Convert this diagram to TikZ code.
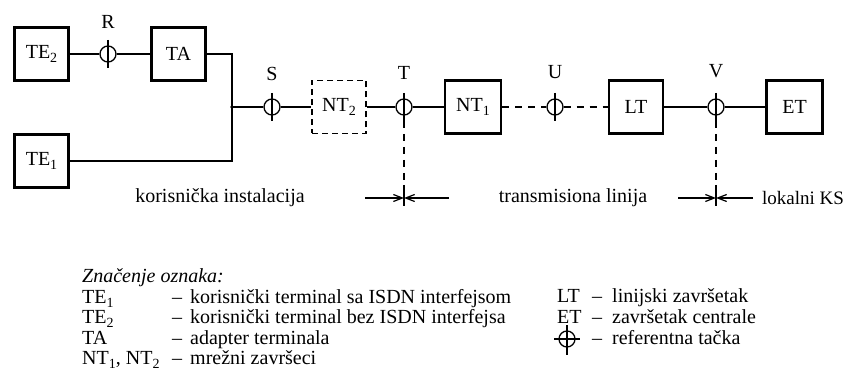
\documentclass[tikz,border=0pt]{standalone}
\usepackage{fontspec}
\setmainfont{Liberation Serif}
\usetikzlibrary{arrows.meta}
\newcommand{\sbs}[1]{\raisebox{-0.22em}{\fontsize{14}{14}\selectfont #1}}
\begin{document}
\begin{tikzpicture}[x=1pt,y=-1pt,
  txt/.style={font=\fontsize{20}{24}\selectfont},
  blk/.style={txt,draw,line width=2.3pt,minimum width=54pt,minimum height=53pt,inner sep=0pt},
  dblk/.style={txt,draw,line width=1.4pt,dash pattern=on 6pt off 4pt,minimum width=54pt,minimum height=53pt,inner sep=0pt},
  refp/.style={draw,circle,line width=1.3pt,minimum size=16pt,inner sep=0pt},
  wire/.style={line width=1.2pt},
  dwire/.style={line width=1.2pt,dash pattern=on 7pt off 6pt},
  lbl/.style={txt,inner sep=0pt},
  arr/.style={wire,-{Straight Barb[length=9pt,width=7pt]}}
]
\useasboundingbox (0,0) rectangle (848,374);

% blocks
\node[blk] (te2) at (41.5,54) {TE\sbs{2}};
\node[blk] (ta) at (178.5,54) {TA};
\node[blk] (te1) at (41.5,161) {TE\sbs{1}};
\node[dblk] (nt2) at (339,107) {NT\sbs{2}};
\node[blk,minimum width=56pt] (nt1) at (473,107) {NT\sbs{1}};
\node[blk] (lt) at (636,107) {LT};
\node[blk,minimum width=56pt] (et) at (794.5,107) {ET};

% reference points
\node[refp] (r) at (108,54) {};
\node[refp] (s) at (272,107) {};
\node[refp] (t) at (404,107) {};
\node[refp] (u) at (555,107) {};
\node[refp] (v) at (716,107) {};
\node[lbl] (rl) at (108,22) {R};
\node[lbl] (sl) at (272,74) {S};
\node[lbl] (tl) at (404,73) {T};
\node[lbl] (ul) at (555,72) {U};
\node[lbl] (vl) at (716,71) {V};
\foreach \p in {r,s,t,u,v}
  \draw[wire] ([yshift=14pt]\p.center) -- ([yshift=-14pt]\p.center);

% wiring
\coordinate (j1) at (232,54);
\coordinate (j) at (232,107);
\coordinate (j2) at (232,161);
\draw[wire] (te2) -- (r) -- (ta);
\draw[wire] (ta.east) -- (j1) -- (j2) -- (te1.east |- j2);
\fill (j) circle (1.8pt);
\draw[wire] (j) -- (s) -- (nt2);
\draw[wire] (nt2) -- (t) -- (nt1);
\draw[dwire] (nt1) -- (u) -- (lt);
\draw[wire] (lt) -- (v) -- (et);

% boundaries
\coordinate (tb) at (404,206);
\coordinate (tc) at (404,198);
\coordinate (ttop) at (404,185);
\coordinate (ta1) at (365,198);
\coordinate (ta2) at (449,198);
\draw[dwire] ([yshift=-14pt]t.center) -- (ttop);
\draw[wire] (ttop) -- (tb);
\draw[arr] (ta1) -- (tc);
\draw[arr] (ta2) -- (tc);

\coordinate (vb) at (716,206);
\coordinate (vc) at (716,198);
\coordinate (vtop) at (716,185);
\coordinate (va1) at (678,198);
\coordinate (va2) at (753,198);
\draw[dwire] ([yshift=-14pt]v.center) -- (vtop);
\draw[wire] (vtop) -- (vb);
\draw[arr] (va1) -- (vc);
\draw[arr] (va2) -- (vc);

\node[lbl] (ki) at (220,198) {korisnička instalacija};
\node[lbl] (tr) at (573,198) {transmisiona linija};
\node[lbl,anchor=west,font=\fontsize{19}{22}\selectfont] (lk) at (762,198) {lokalni KS};

% legend
\node[lbl,anchor=base west] (zn) at (82,282) {\itshape Značenje oznaka:};
\node[lbl,anchor=base west] (l1) at (82,303) {TE\sbs{1}};
\node[lbl,anchor=base west] (l2) at (82,323) {TE\sbs{2}};
\node[lbl,anchor=base west] (l3) at (82,344) {TA};
\node[lbl,anchor=base west] (l4) at (82,364) {NT\sbs{1}, NT\sbs{2}};
\node[lbl,anchor=base] (d1) at (177,303) {–};
\node[lbl,anchor=base] (d2) at (177,323) {–};
\node[lbl,anchor=base] (d3) at (177,344) {–};
\node[lbl,anchor=base] (d4) at (177,364) {–};
\node[lbl,anchor=base west] (e1) at (190,303) {korisnički terminal sa ISDN interfejsom};
\node[lbl,anchor=base west] (e2) at (190,323) {korisnički terminal bez ISDN interfejsa};
\node[lbl,anchor=base west] (e3) at (190,344) {adapter terminala};
\node[lbl,anchor=base west] (e4) at (190,364) {mrežni završeci};

\node[lbl,anchor=base west] (r1) at (557,302) {LT};
\node[lbl,anchor=base west] (r2) at (557,323) {ET};
\node[refp] (lref) at (567,339) {};
\draw[wire] ([xshift=-13pt]lref.center) -- ([xshift=13pt]lref.center);
\draw[wire] ([yshift=14pt]lref.center) -- ([yshift=-16pt]lref.center);
\node[lbl,anchor=base] (rd1) at (597,302) {–};
\node[lbl,anchor=base] (rd2) at (597,323) {–};
\node[lbl,anchor=base] (rd3) at (597,344) {–};
\node[lbl,anchor=base west] (f1) at (612,302) {linijski završetak};
\node[lbl,anchor=base west] (f2) at (612,323) {završetak centrale};
\node[lbl,anchor=base west] (f3) at (612,344) {referentna tačka};
\end{tikzpicture}
\end{document}
